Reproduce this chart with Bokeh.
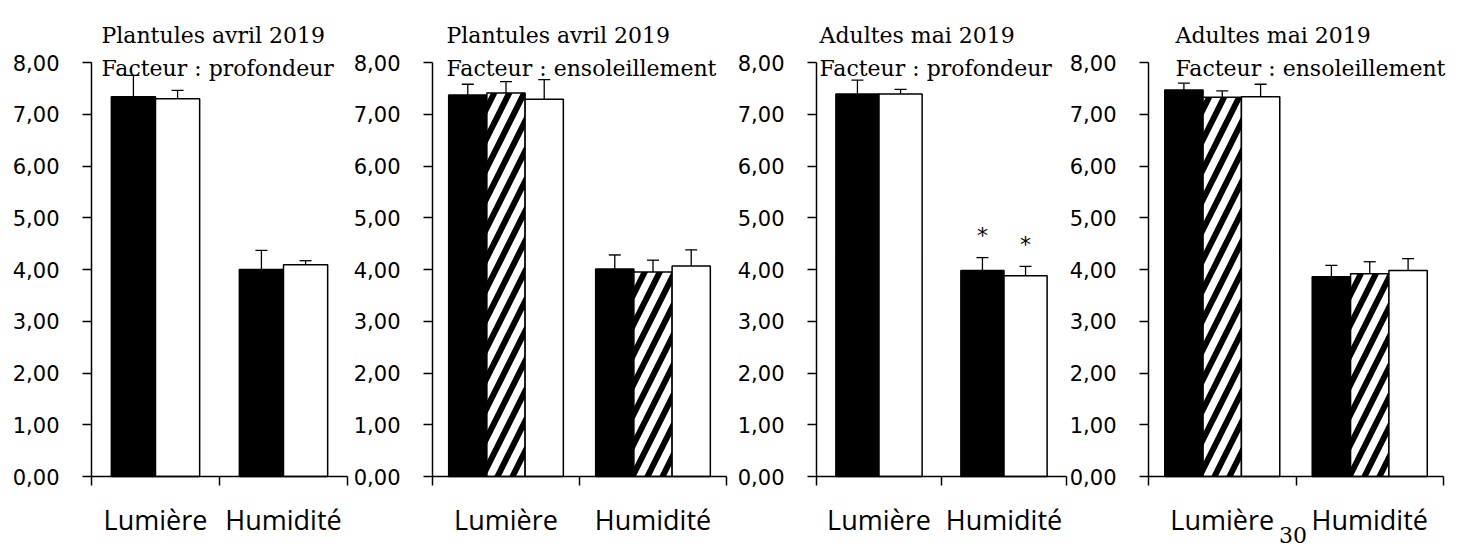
from bokeh.plotting import figure
from bokeh.layouts import row
from bokeh.models import Range1d, FixedTicker, Label, Whisker, TeeHead, ColumnDataSource
from bokeh.core.properties import value
from bokeh.embed import file_html
from bokeh.resources import INLINE

# ---------------- data ----------------
categories = ["Lumière", "Humidité"]
y_ticks = [0, 1, 2, 3, 4, 5, 6, 7, 8]

title_line1 = ["Plantules avril 2019", "Plantules avril 2019", "Adultes mai 2019", "Adultes mai 2019"]
title_line2 = ["Facteur : profondeur", "Facteur : ensoleillement", "Facteur : profondeur", "Facteur : ensoleillement"]

# Panel 1 : Plantules avril 2019, profondeur
p1_noir = [7.34, 4.00]
p1_noir_err = [0.41, 0.37]
p1_blanc = [7.30, 4.09]
p1_blanc_err = [0.16, 0.08]

# Panel 2 : Plantules avril 2019, ensoleillement
p2_noir = [7.37, 4.01]
p2_noir_err = [0.21, 0.27]
p2_hachure = [7.41, 3.95]
p2_hachure_err = [0.22, 0.23]
p2_blanc = [7.29, 4.07]
p2_blanc_err = [0.38, 0.31]

# Panel 3 : Adultes mai 2019, profondeur
p3_noir = [7.39, 3.98]
p3_noir_err = [0.27, 0.25]
p3_blanc = [7.39, 3.88]
p3_blanc_err = [0.09, 0.18]
p3_noir_sig = ["", "*"]
p3_blanc_sig = ["", "*"]

# Panel 4 : Adultes mai 2019, ensoleillement
p4_noir = [7.47, 3.86]
p4_noir_err = [0.13, 0.22]
p4_hachure = [7.33, 3.92]
p4_hachure_err = [0.12, 0.23]
p4_blanc = [7.34, 3.98]
p4_blanc_err = [0.24, 0.23]

page_number = "30"

# ---------------- layout / styles ----------------
H = 546            # canvas height
ZERO_PX = 476      # pixel row of y = 0
UNIT_PX = 51.75    # pixels per y unit

STYLES = {
    "noir": dict(fill_color="black"),
    "hachure": dict(fill_color="white", hatch_pattern="/", hatch_color="black",
                    hatch_scale=30, hatch_weight=6),
    "blanc": dict(fill_color="white"),
}
SERIF = "DejaVu Serif"


def fmt(v):
    return f"{v:.2f}".replace(".", ",")


def make_panel(idx, series, width, axis_px, cat_px, bar_w, title_dx):
    ncat = len(categories)
    p = figure(width=width, height=H, title=None,
               x_range=Range1d(-axis_px / cat_px, (width - axis_px) / cat_px),
               y_range=Range1d(-(H - ZERO_PX) / UNIT_PX, ZERO_PX / UNIT_PX),
               output_backend="svg", toolbar_location=None,
               min_border_left=0, min_border_right=0,
               min_border_top=0, min_border_bottom=0)
    p.outline_line_color = None
    p.grid.visible = False
    p.background_fill_color = "white"
    p.border_fill_color = "white"

    n = len(series)
    for i, (kind, vals, errs, sig) in enumerate(series):
        off = (i - (n - 1) / 2) * bar_w
        xs = [k + 0.5 + off for k in range(ncat)]
        src = ColumnDataSource(dict(
            x=xs, top=vals,
            upper=[v + e for v, e in zip(vals, errs)],
            lower=[v - e for v, e in zip(vals, errs)],
        ))
        p.vbar(x="x", top="top", bottom=0, width=bar_w, source=src,
               line_color="black", line_width=1.5, **STYLES[kind])
        p.add_layout(Whisker(source=src, base="x", upper="upper", lower="lower",
                             line_color="black", line_width=1.3,
                             upper_head=TeeHead(size=12, line_width=1.3, line_color="black"),
                             lower_head=TeeHead(size=12, line_width=1.3, line_color="black")))
        if sig is not None:
            ssrc = ColumnDataSource(dict(x=xs, y=[v + e for v, e in zip(vals, errs)], t=sig))
            p.text(x="x", y="y", text="t", source=ssrc, text_align="center",
                   text_baseline="middle", y_offset=-22,
                   text_font=value("DejaVu Sans"), text_font_size="22px", text_color="black")

    # y axis (drawn at x = 0, only between 0 and 8)
    ya = p.yaxis[0]
    ya.fixed_location = 0
    ya.bounds = (y_ticks[0], y_ticks[-1])
    ya.ticker = FixedTicker(ticks=y_ticks, minor_ticks=[])
    ya.major_label_overrides = {t: fmt(t) for t in y_ticks}
    ya.major_tick_out = 9
    ya.major_tick_in = 0
    ya.major_label_standoff = 23
    ya.axis_line_width = 1.5
    ya.major_tick_line_width = 1.5
    ya.major_label_text_font = "DejaVu Sans"
    ya.major_label_text_font_size = "21px"
    ya.major_label_text_color = "black"

    # x axis (drawn at y = 0, ticks between categories)
    xa = p.xaxis[0]
    xa.fixed_location = 0
    xa.bounds = (0, ncat)
    centers = [k + 0.5 for k in range(ncat)]
    bounds = [k for k in range(ncat + 1)]
    xa.ticker = FixedTicker(ticks=centers, minor_ticks=bounds)
    xa.major_label_overrides = {c: lab for c, lab in zip(centers, categories)}
    xa.major_tick_out = 0
    xa.major_tick_in = 0
    xa.minor_tick_out = 9
    xa.minor_tick_in = 0
    xa.minor_tick_line_width = 1.5
    xa.axis_line_width = 1.5
    xa.major_label_standoff = 15
    xa.major_label_text_font = "Open Sans"
    xa.major_label_text_font_size = "27px"
    xa.major_label_text_color = "black"

    # titles (two lines)
    p.add_layout(Label(x=0, y=y_ticks[-1], x_offset=title_dx, y_offset=27,
                       text=title_line1[idx], text_font=SERIF, text_font_size="22px",
                       text_baseline="alphabetic", text_color="black"))
    p.add_layout(Label(x=0, y=y_ticks[-1], x_offset=title_dx, y_offset=-6,
                       text=title_line2[idx], text_font=SERIF, text_font_size="22px",
                       text_baseline="alphabetic", text_color="black"))
    return p


p1 = make_panel(0, [("noir", p1_noir, p1_noir_err, None),
                    ("blanc", p1_blanc, p1_blanc_err, None)],
                width=352, axis_px=91, cat_px=128, bar_w=0.345, title_dx=10)
p2 = make_panel(1, [("noir", p2_noir, p2_noir_err, None),
                    ("hachure", p2_hachure, p2_hachure_err, None),
                    ("blanc", p2_blanc, p2_blanc_err, None)],
                width=377, axis_px=80, cat_px=147, bar_w=0.26, title_dx=14)
p3 = make_panel(2, [("noir", p3_noir, p3_noir_err, p3_noir_sig),
                    ("blanc", p3_blanc, p3_blanc_err, p3_blanc_sig)],
                width=340, axis_px=87, cat_px=125, bar_w=0.345, title_dx=3)
p4 = make_panel(3, [("noir", p4_noir, p4_noir_err, None),
                    ("hachure", p4_hachure, p4_hachure_err, None),
                    ("blanc", p4_blanc, p4_blanc_err, None)],
                width=390, axis_px=79, cat_px=147.5, bar_w=0.26, title_dx=27)

p4.add_layout(Label(x=1, y=0, x_offset=-3, y_offset=-50, text=page_number,
                    text_font=SERIF, text_font_size="22px", text_align="center",
                    text_baseline="top", text_color="black"))

layout = row(p1, p2, p3, p4, spacing=0)

open("out.html", "w").write(file_html(layout, INLINE))
